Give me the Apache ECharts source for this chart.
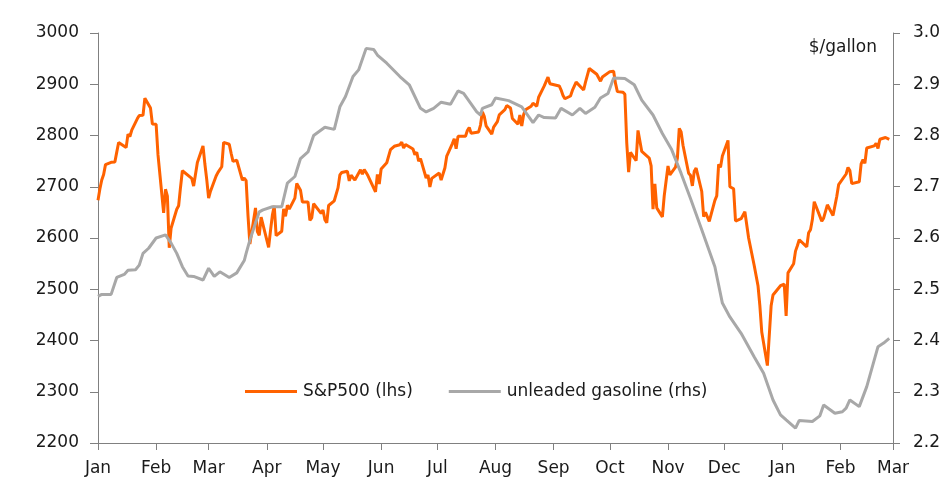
<!DOCTYPE html>
<html>
<head>
<meta charset="utf-8">
<script src="https://cdn.jsdelivr.net/npm/echarts@6/dist/echarts.min.js"></script>
<style>
html,body{margin:0;padding:0;background:#fff;}
#chart{width:952px;height:491px;}
</style>
</head>
<body>
<div id="chart"></div>
<script>
// ---- DATA ----
const monthTicks = ['2018-01-01','2018-02-01','2018-03-01','2018-04-01','2018-05-01','2018-06-01','2018-07-01','2018-08-01','2018-09-01','2018-10-01','2018-11-01','2018-12-01','2019-01-01','2019-02-01','2019-03-01'];
const monthNames = ['Jan','Feb','Mar','Apr','May','Jun','Jul','Aug','Sep','Oct','Nov','Dec'];
const leftTicks = [2200, 3000, 100];
const rightTicks = [2.2, 3.0, 0.1];

const spx = [
['2018-01-01',2673.6],['2018-01-02',2695.8],['2018-01-03',2713.1],['2018-01-04',2724.0],['2018-01-05',2743.2],
['2018-01-08',2747.7],['2018-01-09',2751.3],['2018-01-10',2748.2],['2018-01-11',2767.6],['2018-01-12',2786.2],
['2018-01-16',2776.4],['2018-01-17',2802.6],['2018-01-18',2798.0],['2018-01-19',2810.3],
['2018-01-22',2833.0],['2018-01-23',2839.1],['2018-01-24',2837.5],['2018-01-25',2839.3],['2018-01-26',2872.9],
['2018-01-29',2853.5],['2018-01-30',2822.4],['2018-01-31',2823.8],['2018-02-01',2822.0],['2018-02-02',2762.1],
['2018-02-05',2648.9],['2018-02-06',2695.1],['2018-02-07',2681.7],['2018-02-08',2581.0],['2018-02-09',2619.6],
['2018-02-12',2656.0],['2018-02-13',2662.9],['2018-02-14',2698.6],['2018-02-15',2731.2],['2018-02-16',2732.2],
['2018-02-20',2716.3],['2018-02-21',2701.3],['2018-02-22',2704.0],['2018-02-23',2747.3],
['2018-02-26',2779.6],['2018-02-27',2744.3],['2018-02-28',2713.8],['2018-03-01',2677.7],['2018-03-02',2691.3],
['2018-03-05',2720.9],['2018-03-06',2728.1],['2018-03-07',2726.8],['2018-03-08',2739.0],['2018-03-09',2786.6],
['2018-03-12',2783.0],['2018-03-13',2765.3],['2018-03-14',2749.5],['2018-03-15',2747.3],['2018-03-16',2752.0],
['2018-03-19',2712.9],['2018-03-20',2716.9],['2018-03-21',2711.9],['2018-03-22',2643.7],['2018-03-23',2588.3],
['2018-03-26',2658.6],['2018-03-27',2612.6],['2018-03-28',2605.0],['2018-03-29',2640.9],
['2018-04-02',2581.9],['2018-04-03',2614.5],['2018-04-04',2644.7],['2018-04-05',2662.8],['2018-04-06',2604.5],
['2018-04-09',2613.2],['2018-04-10',2656.9],['2018-04-11',2642.2],['2018-04-12',2664.0],['2018-04-13',2656.3],
['2018-04-16',2677.8],['2018-04-17',2706.4],['2018-04-18',2708.6],['2018-04-19',2693.1],['2018-04-20',2670.1],
['2018-04-23',2670.3],['2018-04-24',2634.6],['2018-04-25',2639.4],['2018-04-26',2666.9],['2018-04-27',2669.9],
['2018-04-30',2648.1],['2018-05-01',2654.8],['2018-05-02',2635.7],['2018-05-03',2629.7],['2018-05-04',2663.4],
['2018-05-07',2672.6],['2018-05-08',2671.9],['2018-05-09',2697.8],['2018-05-10',2723.1],['2018-05-11',2727.7],
['2018-05-14',2730.1],['2018-05-15',2711.5],['2018-05-16',2722.5],['2018-05-17',2720.1],['2018-05-18',2713.0],
['2018-05-21',2733.0],['2018-05-22',2724.4],['2018-05-23',2733.3],['2018-05-24',2727.8],['2018-05-25',2721.3],
['2018-05-29',2689.9],['2018-05-30',2724.0],['2018-05-31',2705.3],['2018-06-01',2734.6],
['2018-06-04',2746.9],['2018-06-05',2748.8],['2018-06-06',2772.4],['2018-06-07',2770.4],['2018-06-08',2779.0],
['2018-06-11',2782.0],['2018-06-12',2786.9],['2018-06-13',2775.6],['2018-06-14',2782.5],['2018-06-15',2779.7],
['2018-06-18',2773.8],['2018-06-19',2762.6],['2018-06-20',2767.3],['2018-06-21',2749.8],['2018-06-22',2754.9],
['2018-06-25',2717.1],['2018-06-26',2723.1],['2018-06-27',2699.6],['2018-06-28',2716.3],['2018-06-29',2718.4],
['2018-07-02',2726.7],['2018-07-03',2713.2],['2018-07-05',2736.6],['2018-07-06',2759.8],
['2018-07-09',2784.2],['2018-07-10',2793.8],['2018-07-11',2774.0],['2018-07-12',2798.3],['2018-07-13',2801.3],
['2018-07-16',2798.4],['2018-07-17',2809.6],['2018-07-18',2815.6],['2018-07-19',2804.5],['2018-07-20',2801.8],
['2018-07-23',2807.0],['2018-07-24',2820.4],['2018-07-25',2846.1],['2018-07-26',2837.4],['2018-07-27',2818.8],
['2018-07-30',2802.6],['2018-07-31',2816.3],['2018-08-01',2813.4],['2018-08-02',2827.2],['2018-08-03',2840.4],
['2018-08-06',2850.4],['2018-08-07',2858.5],['2018-08-08',2857.7],['2018-08-09',2853.6],['2018-08-10',2833.3],
['2018-08-13',2821.9],['2018-08-14',2840.0],['2018-08-15',2818.4],['2018-08-16',2840.7],['2018-08-17',2850.1],
['2018-08-20',2857.1],['2018-08-21',2863.0],['2018-08-22',2861.8],['2018-08-23',2857.0],['2018-08-24',2874.7],
['2018-08-27',2896.7],['2018-08-28',2897.5],['2018-08-29',2914.0],['2018-08-30',2901.1],['2018-08-31',2901.5],
['2018-09-04',2896.7],['2018-09-05',2888.6],['2018-09-06',2878.1],['2018-09-07',2871.7],
['2018-09-10',2877.1],['2018-09-11',2887.9],['2018-09-12',2888.9],['2018-09-13',2904.2],['2018-09-14',2905.0],
['2018-09-17',2888.8],['2018-09-18',2904.3],['2018-09-19',2908.0],['2018-09-20',2930.8],['2018-09-21',2929.7],
['2018-09-24',2919.4],['2018-09-25',2915.6],['2018-09-26',2906.0],['2018-09-27',2914.0],['2018-09-28',2914.0],
['2018-10-01',2924.6],['2018-10-02',2923.4],['2018-10-03',2925.5],['2018-10-04',2901.6],['2018-10-05',2885.6],
['2018-10-08',2884.4],['2018-10-09',2880.3],['2018-10-10',2785.7],['2018-10-11',2728.4],['2018-10-12',2767.1],
['2018-10-15',2750.8],['2018-10-16',2809.9],['2018-10-17',2809.2],['2018-10-18',2768.8],['2018-10-19',2767.8],
['2018-10-22',2755.9],['2018-10-23',2740.7],['2018-10-24',2656.1],['2018-10-25',2705.6],['2018-10-26',2658.7],
['2018-10-29',2641.3],['2018-10-30',2682.6],['2018-10-31',2711.7],['2018-11-01',2740.4],['2018-11-02',2723.1],
['2018-11-05',2738.3],['2018-11-06',2755.5],['2018-11-07',2813.9],['2018-11-08',2806.8],['2018-11-09',2781.0],
['2018-11-12',2726.2],['2018-11-13',2722.2],['2018-11-14',2701.6],['2018-11-15',2730.2],['2018-11-16',2736.3],
['2018-11-19',2690.7],['2018-11-20',2641.9],['2018-11-21',2649.9],['2018-11-23',2632.6],
['2018-11-26',2673.5],['2018-11-27',2682.2],['2018-11-28',2743.8],['2018-11-29',2737.8],['2018-11-30',2760.2],
['2018-12-03',2790.4],['2018-12-04',2700.1],['2018-12-06',2696.0],['2018-12-07',2633.1],
['2018-12-10',2637.7],['2018-12-11',2636.8],['2018-12-12',2651.1],['2018-12-13',2650.5],['2018-12-14',2600.0],
['2018-12-17',2545.9],['2018-12-18',2546.2],['2018-12-19',2507.0],['2018-12-20',2467.4],['2018-12-21',2416.6],
['2018-12-24',2351.1],['2018-12-26',2467.7],['2018-12-27',2488.8],['2018-12-28',2485.7],
['2018-12-31',2506.9],['2019-01-02',2510.0],['2019-01-03',2447.9],['2019-01-04',2531.9],
['2019-01-07',2549.7],['2019-01-08',2574.4],['2019-01-09',2585.0],['2019-01-10',2596.6],['2019-01-11',2596.3],
['2019-01-14',2582.6],['2019-01-15',2610.3],['2019-01-16',2616.1],['2019-01-17',2636.0],['2019-01-18',2670.7],
['2019-01-22',2632.9],['2019-01-23',2638.7],['2019-01-24',2642.3],['2019-01-25',2664.8],
['2019-01-28',2643.9],['2019-01-29',2640.0],['2019-01-30',2681.1],['2019-01-31',2704.1],['2019-02-01',2706.5],
['2019-02-04',2724.9],['2019-02-05',2737.7],['2019-02-06',2731.6],['2019-02-07',2706.1],['2019-02-08',2707.9],
['2019-02-11',2709.8],['2019-02-12',2744.7],['2019-02-13',2753.0],['2019-02-14',2745.7],['2019-02-15',2775.6],
['2019-02-19',2779.8],['2019-02-20',2784.7],['2019-02-21',2774.9],['2019-02-22',2792.7],
['2019-02-25',2796.1],['2019-02-26',2793.9],['2019-02-27',2792.4]
];

const gasoline = [
['2018-01-01',2.486],['2018-01-03',2.490],['2018-01-08',2.490],['2018-01-11',2.523],['2018-01-15',2.529],
['2018-01-17',2.537],['2018-01-21',2.538],['2018-01-23',2.547],['2018-01-25',2.570],['2018-01-28',2.580],
['2018-02-01',2.600],['2018-02-06',2.606],['2018-02-09',2.590],['2018-02-12',2.570],['2018-02-15',2.544],
['2018-02-18',2.526],['2018-02-21',2.525],['2018-02-26',2.518],['2018-03-01',2.541],['2018-03-04',2.525],
['2018-03-07',2.534],['2018-03-12',2.523],['2018-03-16',2.532],['2018-03-20',2.556],['2018-03-21',2.570],
['2018-03-23',2.596],['2018-03-28',2.651],['2018-03-30',2.655],['2018-04-04',2.661],['2018-04-09',2.661],
['2018-04-12',2.707],['2018-04-16',2.720],['2018-04-19',2.755],['2018-04-23',2.768],['2018-04-26',2.800],
['2018-05-02',2.816],['2018-05-07',2.812],['2018-05-10',2.856],['2018-05-13',2.876],['2018-05-17',2.915],
['2018-05-20',2.928],['2018-05-24',2.970],['2018-05-28',2.968],['2018-05-30',2.957],['2018-06-04',2.941],
['2018-06-11',2.915],['2018-06-16',2.899],['2018-06-22',2.853],['2018-06-25',2.846],['2018-06-29',2.853],
['2018-07-03',2.865],['2018-07-08',2.861],['2018-07-12',2.887],['2018-07-15',2.882],['2018-07-22',2.846],
['2018-07-24',2.840],['2018-07-25',2.853],['2018-07-30',2.860],['2018-08-01',2.873],['2018-08-08',2.868],
['2018-08-15',2.856],['2018-08-21',2.825],['2018-08-24',2.840],['2018-08-27',2.835],['2018-09-02',2.834],
['2018-09-05',2.853],['2018-09-11',2.840],['2018-09-15',2.853],['2018-09-18',2.843],['2018-09-23',2.855],
['2018-09-26',2.873],['2018-09-30',2.882],['2018-10-03',2.912],['2018-10-09',2.911],['2018-10-14',2.899],
['2018-10-18',2.869],['2018-10-24',2.840],['2018-10-29',2.804],['2018-11-03',2.772],['2018-11-08',2.726],
['2018-11-13',2.677],['2018-11-19',2.616],['2018-11-26',2.544],['2018-11-30',2.473],['2018-12-04',2.446],
['2018-12-10',2.414],['2018-12-17',2.368],['2018-12-22',2.336],['2018-12-27',2.284],['2018-12-31',2.255],
['2019-01-03',2.245],['2019-01-08',2.229],['2019-01-10',2.244],['2019-01-17',2.242],['2019-01-21',2.253],
['2019-01-23',2.274],['2019-01-29',2.258],['2019-02-02',2.261],['2019-02-04',2.268],['2019-02-06',2.284],
['2019-02-11',2.271],['2019-02-15',2.310],['2019-02-18',2.349],['2019-02-21',2.388],['2019-02-24',2.395],
['2019-02-27',2.404]
];

// ---- helpers ----
function ts(s){ const p = s.split('-').map(Number); return new Date(p[0], p[1]-1, p[2]).getTime(); }
const tickValues = monthTicks.map(ts);
const spxData = spx.map(d => [ts(d[0]), d[1]]);
const gasData = gasoline.map(d => [ts(d[0]), d[1]]);

const FONT = 'DejaVu Sans';
const FS = 17;
const AXIS_COLOR = '#808080';
const TEXT_COLOR = '#1a1a1a';
const ORANGE = '#FF6200';
const GREY = '#A8A8A8';

const chart = echarts.init(document.getElementById('chart'), null, {renderer:'canvas'});
chart.setOption({
  animation: false,
  backgroundColor: '#fff',
  textStyle: {fontFamily: FONT},
  grid: {left: 98, right: 59, top: 33, bottom: 48},
  legend: {
    left: 245, top: 383, padding: 0,
    icon: 'rect', itemWidth: 52, itemHeight: 3, itemGap: 36,
    textStyle: {fontFamily: FONT, fontSize: FS, color: TEXT_COLOR, padding: [0, 0, 0, 1]},
    data: ['S&P500 (lhs)', 'unleaded gasoline (rhs)']
  },
  graphic: [{
    type: 'text', right: 75, top: 39,
    style: {text: '$/gallon', font: FS + 'px "' + FONT + '"', fill: TEXT_COLOR}
  }],
  xAxis: {
    type: 'value',
    min: tickValues[0], max: tickValues[tickValues.length-1],
    axisLine: {lineStyle: {color: AXIS_COLOR, width: 1}},
    axisTick: {show: true, length: 7, lineStyle: {color: AXIS_COLOR}, customValues: tickValues},
    axisLabel: {
      customValues: tickValues,
      margin: 17, fontFamily: FONT, fontSize: FS, color: TEXT_COLOR,
      formatter: v => monthNames[new Date(v).getMonth()]
    },
    splitLine: {show: false}
  },
  yAxis: [{
    type: 'value', position: 'left',
    min: leftTicks[0], max: leftTicks[1], interval: leftTicks[2],
    axisLine: {show: true, lineStyle: {color: AXIS_COLOR, width: 1}},
    axisTick: {show: true, length: 8, lineStyle: {color: AXIS_COLOR}},
    axisLabel: {margin: 19, fontFamily: FONT, fontSize: FS, color: TEXT_COLOR,
      formatter: v => String(Math.round(v))},
    splitLine: {show: false}
  }, {
    type: 'value', position: 'right',
    min: rightTicks[0], max: rightTicks[1], interval: rightTicks[2],
    axisLine: {show: true, lineStyle: {color: AXIS_COLOR, width: 1}},
    axisTick: {show: true, length: 7, lineStyle: {color: AXIS_COLOR}},
    axisLabel: {margin: 20, fontFamily: FONT, fontSize: FS, color: TEXT_COLOR,
      formatter: v => v.toFixed(1)},
    splitLine: {show: false}
  }],
  series: [{
    name: 'S&P500 (lhs)', type: 'line', yAxisIndex: 0,
    data: spxData, symbol: 'none', showSymbol: false,
    lineStyle: {color: ORANGE, width: 3}, itemStyle: {color: ORANGE}
  }, {
    name: 'unleaded gasoline (rhs)', type: 'line', yAxisIndex: 1,
    data: gasData, symbol: 'none', showSymbol: false,
    lineStyle: {color: GREY, width: 3}, itemStyle: {color: GREY}
  }]
});
</script>
</body>
</html>
